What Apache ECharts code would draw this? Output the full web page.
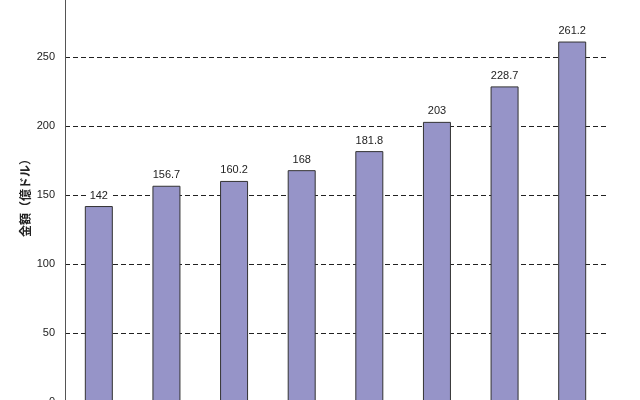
<!DOCTYPE html>
<html>
<head>
<meta charset="utf-8">
<script src="https://cdn.jsdelivr.net/npm/echarts@6/dist/echarts.min.js"></script>
<style>
  html, body { margin: 0; padding: 0; background: #fff; overflow: hidden; }
  #main { position: absolute; left: 0; top: -12px; width: 640px; height: 420px; }
</style>
</head>
<body>
<div id="main"></div>
<script>
// data
var categories = ['1', '2', '3', '4', '5', '6', '7', '8'];
var values = [142, 156.7, 160.2, 168, 181.8, 203, 228.7, 261.2];
var yTicks = [0, 50, 100, 150, 200, 250, 300];

var chart = echarts.init(document.getElementById('main'));

var option = {
  animation: false,
  grid: { left: 65, right: 34, top: 0, bottom: 6, outerBoundsMode: 'none' },
  xAxis: {
    type: 'category',
    data: categories,
    axisLine: { lineStyle: { color: '#333', width: 1 } },
    axisTick: { inside: true, length: 5, lineStyle: { color: '#333' } },
    axisLabel: { color: '#222', fontSize: 11 }
  },
  yAxis: {
    type: 'value',
    min: yTicks[0],
    max: yTicks[yTicks.length - 1],
    interval: 50,
    name: '金額（億ドル）',
    nameLocation: 'middle',
    nameGap: 34,
    nameMoveOverlap: false,
    nameRotate: 90,
    nameTextStyle: {
      fontFamily: 'Noto Sans CJK JP',
      fontSize: 12,
      fontWeight: 'bold',
      color: '#222'
    },
    axisLine: { show: true, lineStyle: { color: '#555', width: 1 } },
    axisTick: { show: false },
    axisLabel: {
      margin: 10,
      color: '#222',
      fontSize: 11,
      fontFamily: 'Liberation Sans'
    },
    splitLine: { lineStyle: { color: '#222', type: [5, 3], width: 1 } }
  },
  series: [
    {
      type: 'bar',
      data: values,
      barWidth: 28,
      itemStyle: { color: '#9694c8', borderColor: '#333', borderWidth: 1 },
      label: {
        show: true,
        position: 'top',
        distance: 5,
        color: '#222',
        fontSize: 11,
        fontFamily: 'Liberation Sans',
        backgroundColor: '#fff',
        padding: [0, 2]
      }
    }
  ]
};

chart.setOption(option);
</script>
</body>
</html>
